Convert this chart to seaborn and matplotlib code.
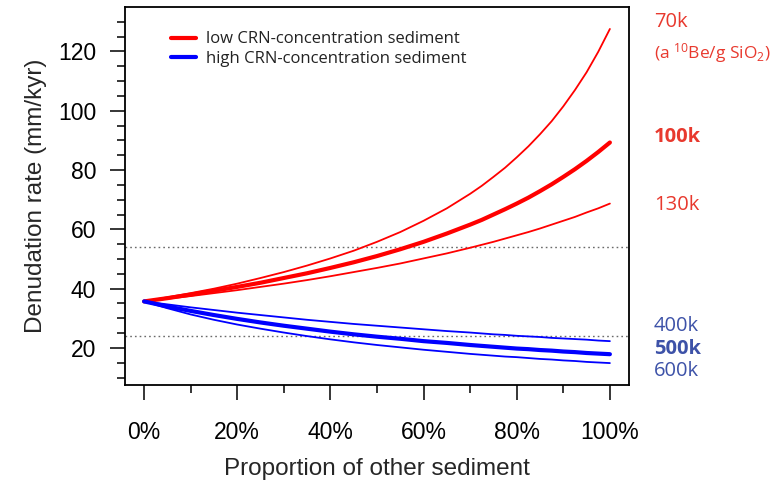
import numpy as np
import pandas as pd
import matplotlib
matplotlib.use("Agg")
import matplotlib.pyplot as plt
import seaborn as sns
from matplotlib.lines import Line2D

# ---- data ----
proportion = [0, 5, 10, 15, 20, 25, 30, 35, 40, 45, 50, 55, 60, 65, 70, 72.5, 75, 77.5,
              80, 82.5, 85, 87.5, 90, 92.5, 95, 97.5, 100]

low_70k = [35.7, 37.1, 38.5, 40.0, 41.7, 43.6, 45.6, 47.8, 50.2, 52.8, 55.8,
           59.1, 62.9, 67.1, 72.0, 74.7, 77.7, 80.8, 84.3, 88.0, 92.1, 96.5,
           101.5, 107.0, 113.0, 119.9, 127.6]
low_100k = [35.7, 36.8, 38.0, 39.3, 40.6, 42.0, 43.6, 45.2, 47.0, 48.9, 51.0,
            53.3, 55.8, 58.6, 61.6, 63.2, 65.0, 66.8, 68.7, 70.7, 72.9, 75.2,
            77.7, 80.3, 83.1, 86.1, 89.3]
low_130k = [35.7, 36.6, 37.5, 38.5, 39.5, 40.6, 41.7, 42.9, 44.2, 45.6, 47.0,
            48.5, 50.2, 51.9, 53.8, 54.8, 55.8, 56.9, 58.0, 59.1, 60.3, 61.6,
            62.9, 64.2, 65.7, 67.1, 68.7]
high_400k = [35.7, 34.7, 33.7, 32.8, 31.9, 31.1, 30.3, 29.5, 28.8, 28.1, 27.5,
             26.9, 26.3, 25.7, 25.2, 24.9, 24.6, 24.4, 24.1, 23.9, 23.7, 23.4,
             23.2, 23.0, 22.8, 22.5, 22.3]
high_500k = [35.7, 34.0, 32.5, 31.1, 29.8, 28.6, 27.5, 26.5, 25.5, 24.6, 23.8,
             23.1, 22.3, 21.7, 21.0, 20.7, 20.4, 20.1, 19.8, 19.6, 19.3, 19.1,
             18.8, 18.6, 18.3, 18.1, 17.9]
high_600k = [35.7, 33.4, 31.3, 29.5, 27.9, 26.5, 25.2, 24.0, 22.9, 21.9, 21.0,
             20.2, 19.4, 18.7, 18.0, 17.7, 17.4, 17.1, 16.9, 16.6, 16.3, 16.1,
             15.8, 15.6, 15.3, 15.1, 14.9]

series_names = ["70k", "100k", "130k", "400k", "500k", "600k"]
series_values = [low_70k, low_100k, low_130k, high_400k, high_500k, high_600k]
ref_lines = [54, 24]
x_ticks = [0, 20, 40, 60, 80, 100]
x_ticklabels = ["0%", "20%", "40%", "60%", "80%", "100%"]
y_ticks = [20, 40, 60, 80, 100, 120]
legend_labels = ["low CRN-concentration sediment", "high CRN-concentration sediment"]

# ---- styling ----
sns.set_style("ticks")
plt.rcParams["font.family"] = ["Liberation Sans", "DejaVu Sans"]
plt.rcParams["mathtext.fontset"] = "custom"
plt.rcParams["mathtext.rm"] = "Open Sans"
plt.rcParams["mathtext.it"] = "Open Sans"

line_color = {"70k": "#ff0000", "100k": "#ff0000", "130k": "#ff0000",
              "400k": "#0000ff", "500k": "#0000ff", "600k": "#0000ff"}
line_width = {"70k": 1.3, "100k": 3.0, "130k": 1.3,
              "400k": 1.3, "500k": 3.0, "600k": 1.3}

df = pd.concat([pd.DataFrame({"proportion": proportion, "rate": v, "series": n})
                for n, v in zip(series_names, series_values)], ignore_index=True)

fig = plt.figure(figsize=(7.75, 4.87), dpi=100)
ax = fig.add_axes([0.1613, 0.2094, 0.8116 - 0.1613, 0.9856 - 0.2094])

for y in ref_lines:
    ax.axhline(y, color="#6a6a6a", lw=1.0, ls=(0, (1.2, 2.2)), zorder=1)

for n in series_names:
    sub = df[df["series"] == n]
    sns.lineplot(data=sub, x="proportion", y="rate", ax=ax, color=line_color[n],
                 lw=line_width[n], legend=False, zorder=3)

ax.set_xlim(-4.1, 104.1)
ax.set_ylim(7.5, 135)

ax.set_xticks(x_ticks)
ax.set_xticklabels(x_ticklabels)
ax.set_xticks(np.arange(10, 100, 20), minor=True)
ax.set_yticks(y_ticks)
ax.set_yticks([v for v in np.arange(10, 135, 5) if v not in y_ticks], minor=True)

ax.tick_params(axis="both", which="major", length=10.8, width=1.1, labelsize=16.5,
               color="black", labelcolor="black")
ax.tick_params(axis="both", which="minor", length=5.5, width=1.1, color="black")
ax.tick_params(axis="y", which="major", pad=10)
ax.tick_params(axis="x", which="major", pad=15)

for s in ax.spines.values():
    s.set_visible(True)
    s.set_linewidth(1.3)
    s.set_color("black")

ax.set_xlabel("Proportion of other sediment", fontsize=17.5, labelpad=10)
ax.set_ylabel("Denudation rate (mm/kyr)", fontsize=17.5, labelpad=8)

handles = [Line2D([0], [0], color="#ff0000", lw=3),
           Line2D([0], [0], color="#0000ff", lw=3)]
leg = ax.legend(handles, legend_labels, loc="upper left", bbox_to_anchor=(0.062, 0.975),
                frameon=False, prop={"family": "Open Sans", "size": 12},
                handlelength=1.5, handletextpad=0.6, labelspacing=0.2)
for t in leg.get_texts():
    t.set_color("#222222")

red_txt = "#e8392e"
blue_txt = "#3d52a8"
fs = 14.5
def rlabel(ypix, s, color, bold=False, size=fs):
    fig.text(654 / 775, 1 - ypix / 487, s, color=color, fontsize=size,
             fontweight="bold" if bold else "normal", family="Open Sans",
             ha="left", va="center")

rlabel(22, "70k", red_txt)
rlabel(53, r"(a $^{10}$Be/g SiO$_2$)", red_txt, size=12.5)
rlabel(137, "100k", red_txt, bold=True)
rlabel(205, "130k", red_txt)
rlabel(326, "400k", blue_txt)
rlabel(349, "500k", blue_txt, bold=True)
rlabel(371, "600k", blue_txt)

fig.savefig("out.png", dpi=100)
